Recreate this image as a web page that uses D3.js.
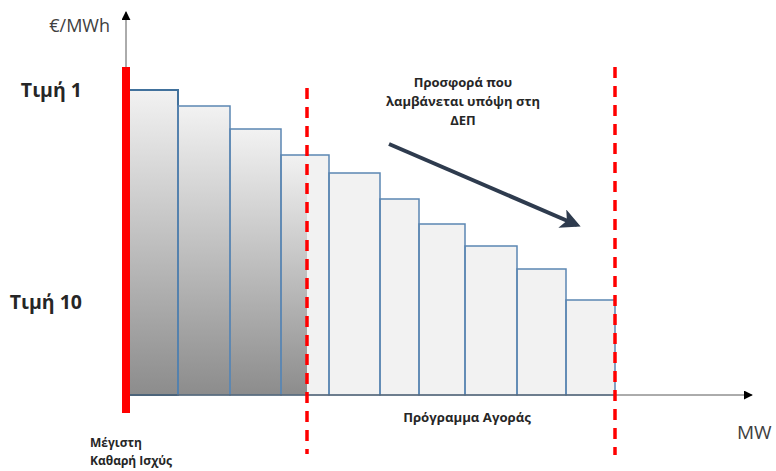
<!DOCTYPE html>
<html>
<head>
<meta charset="utf-8">
<style>
  body { margin: 0; background: #fff; }
  text { font-family: "Open Sans", "Noto Sans", sans-serif; fill: #262626; }
  .bold { font-weight: bold; }
</style>
</head>
<body>
<svg width="776" height="471"></svg>
<script src="https://cdn.jsdelivr.net/npm/d3@7"></script>
<script>

  // offer steps (MW width of each step, price in €/MWh, arbitrary units)
  var steps = ["Βήμα 1", "Βήμα 2", "Βήμα 3", "Βήμα 4", "Βήμα 5", "Βήμα 6", "Βήμα 7", "Βήμα 8", "Βήμα 9", "Βήμα 10"];
  var stepMW = [52, 52, 51, 48, 51, 39, 46, 52, 49, 49];
  var stepPrice = [305, 289, 266, 240, 222, 196, 171, 149, 126, 95];

  // vertical markers on the MW axis
  var marketSchedule = 181;   // Πρόγραμμα Αγοράς starts here
  var maxNetCapacity = 489;   // end of offer taken into account

  var priceLabels = ["Τιμή 1", "Τιμή 10"];
  var priceLabelValues = [298, 86];

  var svg = d3.select("svg"),
    margin = {top: 12, right: 24, bottom: 76, left: 126},
    width = +svg.attr("width") - margin.left - margin.right,
    height = +svg.attr("height") - margin.top - margin.bottom,
    g = svg.append("g").attr("transform", "translate(" + margin.left + "," + margin.top + ")");

  var x = d3.scaleLinear().domain([0, width]).range([0, width]);
  var y = d3.scaleLinear().domain([0, height]).range([height, 0]);

  // build bar data with cumulative start/end
  var acc = 0;
  var bars = steps.map(function (name, i) {
    var d = {name: name, x0: acc, x1: acc + stepMW[i], price: stepPrice[i]};
    acc += stepMW[i];
    return d;
  });

  var defs = svg.append("defs");
  var grad = defs.append("linearGradient")
    .attr("id", "grayGrad")
    .attr("x1", 0).attr("y1", 0).attr("x2", 0).attr("y2", 1);
  grad.append("stop").attr("offset", "0%").attr("stop-color", "#f2f2f2");
  grad.append("stop").attr("offset", "100%").attr("stop-color", "#8c8c8c");

  var arrow = defs.append("marker")
    .attr("id", "axisHead")
    .attr("viewBox", "0 0 10 10")
    .attr("refX", 9).attr("refY", 5)
    .attr("markerWidth", 9).attr("markerHeight", 9)
    .attr("markerUnits", "userSpaceOnUse")
    .attr("orient", "auto");
  arrow.append("path").attr("d", "M0,0L10,5L0,10z").attr("fill", "#000");

  var bigHead = defs.append("marker")
    .attr("id", "bigHead")
    .attr("viewBox", "0 0 10 10")
    .attr("refX", 8).attr("refY", 5)
    .attr("markerWidth", 20).attr("markerHeight", 20)
    .attr("markerUnits", "userSpaceOnUse")
    .attr("orient", "auto");
  bigHead.append("path").attr("d", "M0,0L10,5L0,10L2.5,5z").attr("fill", "#2e3b4e");

  // light fill for every step
  g.selectAll(".bar")
    .data(bars)
    .enter().append("rect")
    .attr("class", "bar")
    .attr("x", function (d) { return x(d.x0); })
    .attr("y", function (d) { return y(d.price); })
    .attr("width", function (d) { return x(d.x1) - x(d.x0); })
    .attr("height", function (d) { return y(0) - y(d.price); })
    .attr("fill", "#f2f2f2");

  // gradient part left of market schedule
  g.selectAll(".shade")
    .data(bars.filter(function (d) { return d.x0 < marketSchedule; }))
    .enter().append("rect")
    .attr("class", "shade")
    .attr("x", function (d) { return x(d.x0); })
    .attr("y", function (d) { return y(d.price); })
    .attr("width", function (d) { return x(Math.min(d.x1, marketSchedule)) - x(d.x0); })
    .attr("height", function (d) { return y(0) - y(d.price); })
    .attr("fill", "url(#grayGrad)");

  // outlines
  g.selectAll(".edge")
    .data(bars)
    .enter().append("rect")
    .attr("class", "edge")
    .attr("x", function (d) { return x(d.x0); })
    .attr("y", function (d) { return y(d.price); })
    .attr("width", function (d) { return x(d.x1) - x(d.x0); })
    .attr("height", function (d) { return y(0) - y(d.price); })
    .attr("fill", "none")
    .attr("stroke", function (d, i) { return i === 0 ? "#41719c" : "#5b86b3"; })
    .attr("stroke-width", function (d, i) { return i === 0 ? 2 : 1.5; });

  // axes
  g.append("line")
    .attr("x1", x(0)).attr("x2", x(width))
    .attr("y1", y(0)).attr("y2", y(0))
    .attr("stroke", "#595959").attr("stroke-width", 1)
    .attr("marker-end", "url(#axisHead)");

  g.append("line")
    .attr("x1", x(0)).attr("x2", x(0))
    .attr("y1", y(0)).attr("y2", y(height))
    .attr("stroke", "#595959").attr("stroke-width", 1)
    .attr("marker-end", "url(#axisHead)");

  // solid red line at zero
  g.append("rect")
    .attr("x", x(0) - 4).attr("width", 8)
    .attr("y", y(328)).attr("height", y(-18) - y(328))
    .attr("fill", "#ff0000");

  // dashed markers
  g.append("line")
    .attr("x1", x(marketSchedule)).attr("x2", x(marketSchedule))
    .attr("y1", y(307)).attr("y2", y(-59))
    .attr("stroke", "#ff0000").attr("stroke-width", 3.5)
    .attr("stroke-dasharray", "11,8");

  g.append("line")
    .attr("x1", x(maxNetCapacity)).attr("x2", x(maxNetCapacity))
    .attr("y1", y(328)).attr("y2", y(-60))
    .attr("stroke", "#ff0000").attr("stroke-width", 3.5)
    .attr("stroke-dasharray", "11,8");

  // trend arrow
  g.append("line")
    .attr("x1", x(263)).attr("y1", y(251))
    .attr("x2", x(451)).attr("y2", y(170))
    .attr("stroke", "#2e3b4e").attr("stroke-width", 4)
    .attr("marker-end", "url(#bigHead)");

  // labels
  g.append("text")
    .attr("x", x(-16)).attr("y", y(363))
    .attr("text-anchor", "end")
    .style("font-size", "18px").style("fill", "#404040")
    .text("€/MWh");

  g.selectAll(".plabel")
    .data(priceLabels)
    .enter().append("text")
    .attr("class", "plabel bold")
    .attr("x", x(-44))
    .attr("y", function (d, i) { return y(priceLabelValues[i]); })
    .attr("text-anchor", "end")
    .style("font-size", "19.5px")
    .text(function (d) { return d; });

  var note = ["Προσφορά που", "λαμβάνεται υπόψη στη", "ΔΕΠ"];
  g.selectAll(".note")
    .data(note)
    .enter().append("text")
    .attr("class", "note bold")
    .attr("x", x(337))
    .attr("y", function (d, i) { return y(308 - i * 19); })
    .attr("text-anchor", "middle")
    .style("font-size", "13px")
    .text(function (d) { return d; });

  g.append("text")
    .attr("class", "bold")
    .attr("x", x(341)).attr("y", y(-27))
    .attr("text-anchor", "middle")
    .style("font-size", "13.2px")
    .text("Πρόγραμμα Αγοράς");

  g.append("text")
    .attr("x", x(611)).attr("y", y(-44))
    .style("font-size", "19px").style("fill", "#404040")
    .text("MW");

  var maxLabel = ["Μέγιστη", "Καθαρή Ισχύς"];
  g.selectAll(".maxl")
    .data(maxLabel)
    .enter().append("text")
    .attr("class", "maxl bold")
    .attr("x", x(-36))
    .attr("y", function (d, i) { return y(-52 - i * 18); })
    .style("font-size", "12px")
    .text(function (d) { return d; });

</script>
</body>
</html>
